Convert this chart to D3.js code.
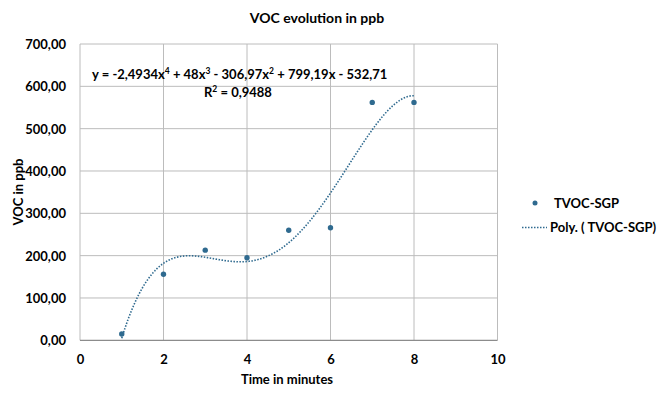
<!DOCTYPE html>
<html><head><meta charset="utf-8">
<script src="https://cdn.jsdelivr.net/npm/d3@7"></script>
<style>body{margin:0;background:#fff;} text{font-family:Lato,"Open Sans",sans-serif;font-weight:bold;fill:#000;}</style>
</head><body><svg id="c" width="660" height="394"></svg>
<script>
const minutes = [1, 2, 3, 4, 5, 6, 7, 8];
const tvoc = [15, 156, 213, 195, 260, 266, 562, 562];
const trendCoefs = [-532.71, 799.19, -306.97, 48, -2.4934]; // c0..c4
const xTicks = [0, 2, 4, 6, 8, 10];
const yTicks = [0, 100, 200, 300, 400, 500, 600, 700];

const svg = d3.select("#c");
const x = d3.scaleLinear().domain([0, 10]).range([80, 497.5]);
const y = d3.scaleLinear().domain([0, 700]).range([340.3, 44]);
const col = "#2f6a8f";
const fmt = v => d3.format(".2f")(v).replace(".", ",");

// grid
svg.append("g").selectAll("line").data(yTicks.slice(1)).join("line")
  .attr("x1", x(0)).attr("x2", x(10)).attr("y1", d => y(d)).attr("y2", d => y(d))
  .attr("stroke", "#bcbcbc").attr("stroke-width", 1);
svg.append("g").selectAll("line").data(xTicks).join("line")
  .attr("y1", y(0)).attr("y2", y(700)).attr("x1", d => x(d)).attr("x2", d => x(d))
  .attr("stroke", "#bcbcbc").attr("stroke-width", 1);
svg.append("line").attr("x1", x(0)).attr("x2", x(10)).attr("y1", y(0)).attr("y2", y(0))
  .attr("stroke", "#8c8c8c").attr("stroke-width", 1.2);

// axes labels
const yAxis = d3.axisLeft(y).tickValues(yTicks).tickFormat(fmt).tickSize(0).tickPadding(14);
const gy = svg.append("g").attr("transform", `translate(${x(0)},0)`).call(yAxis);
gy.select(".domain").remove();
gy.selectAll("text").style("font-size", "13px").attr("dy", "0.35em");
const xAxis = d3.axisBottom(x).tickValues(xTicks).tickFormat(d3.format("d")).tickSize(0).tickPadding(14);
const gx = svg.append("g").attr("transform", `translate(0,${y(0)})`).call(xAxis);
gx.select(".domain").remove();
gx.selectAll("text").style("font-size", "13px");

// trendline
const poly = t => trendCoefs.reduce((s, c, i) => s + c * Math.pow(t, i), 0);
const xs = d3.range(minutes[0], minutes[minutes.length - 1] + 0.0001, 0.05);
svg.append("path").datum(xs)
  .attr("d", d3.line().x(d => x(d)).y(d => y(poly(d))).curve(d3.curveMonotoneX))
  .attr("fill", "none").attr("stroke", col).attr("stroke-width", 1.6)
  .attr("stroke-dasharray", "1.5,1.5");

// points
svg.append("g").selectAll("circle").data(minutes).join("circle")
  .attr("cx", d => x(d)).attr("cy", (d, i) => y(tvoc[i])).attr("r", 2.7).attr("fill", col);

// title
svg.append("text").attr("x", 317).attr("y", 23).attr("text-anchor", "middle")
  .style("font-size", "14px").text("VOC evolution in ppb");
svg.append("text").attr("x", 287).attr("y", 384).attr("text-anchor", "middle")
  .style("font-size", "13px").text("Time in minutes");
svg.append("text").attr("transform", "translate(23,192) rotate(-90)").attr("text-anchor", "middle")
  .style("font-size", "13px").text("VOC in ppb");

// equation
const eq = svg.append("text").attr("x", 92).attr("y", 79).style("font-size", "13px");
[["y = -2,4934x"],["4","sup"],[" + 48x"],["3","sup"],[" - 306,97x"],["2","sup"],[" + 799,19x - 532,71"]]
  .forEach(([t, s]) => {
    const ts = eq.append("tspan").text(t);
    if (s) ts.attr("dy", -5).style("font-size", "8.5px"); else if (t !== "y = -2,4934x") ts.attr("dy", 5);
  });
const r2 = svg.append("text").attr("x", 204).attr("y", 97).style("font-size", "13px");
r2.append("tspan").text("R");
r2.append("tspan").attr("dy", -5).style("font-size", "8.5px").text("2");
r2.append("tspan").attr("dy", 5).text(" = 0,9488");

// legend
svg.append("circle").attr("cx", 535).attr("cy", 203).attr("r", 2.5).attr("fill", col);
svg.append("text").attr("x", 554).attr("y", 208).style("font-size", "13px").text("TVOC-SGP");
svg.append("line").attr("x1", 522).attr("x2", 547).attr("y1", 227.5).attr("y2", 227.5)
  .attr("stroke", col).attr("stroke-width", 1.6).attr("stroke-dasharray", "1.5,1.5");
svg.append("text").attr("x", 550).attr("y", 232).style("font-size", "13px").text("Poly. ( TVOC-SGP)");
</script></body></html>
